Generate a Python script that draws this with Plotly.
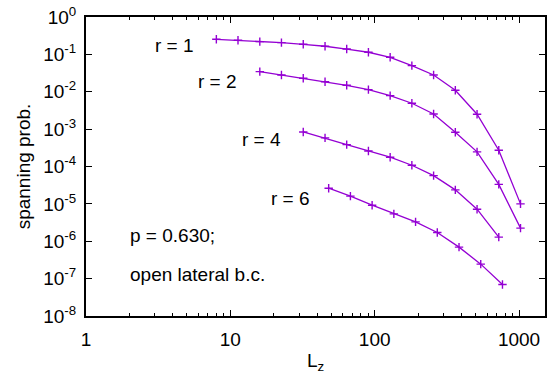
import plotly.graph_objects as go

# L_z values (powers of sqrt(2))
Lz_r1 = [8, 11.3, 16, 22.6, 32, 45.3, 64, 90.5, 128, 181, 256, 362, 512, 724, 1024]
P_r1 = [0.253, 0.238, 0.219, 0.206, 0.186, 0.165, 0.139, 0.114, 0.0836, 0.0499,
        0.0281, 0.011, 0.0025, 2.73e-4, 1.0e-5]

Lz_r2 = [16, 22.6, 32, 45.3, 64, 90.5, 128, 181, 256, 362, 512, 724, 1024]
P_r2 = [0.0345, 0.0281, 0.023, 0.0186, 0.0149, 0.0114, 0.00787, 0.00493, 0.00255,
        8.26e-4, 2.46e-4, 3.32e-5, 2.24e-6]

Lz_r4 = [32, 45.3, 64, 90.5, 128, 181, 256, 362, 512, 724]
P_r4 = [8.41e-4, 5.82e-4, 3.85e-4, 2.61e-4, 1.77e-4, 1.08e-4, 5.71e-5, 2.37e-5,
        7.21e-6, 1.29e-6]

Lz_r6 = [48, 67.9, 96, 135.8, 192, 271.5, 384, 543, 768]
P_r6 = [2.63e-5, 1.61e-5, 9.23e-6, 5.40e-6, 3.30e-6, 1.71e-6, 6.96e-7, 2.44e-7, 6.95e-8]

series = [("r = 1", Lz_r1, P_r1), ("r = 2", Lz_r2, P_r2),
          ("r = 4", Lz_r4, P_r4), ("r = 6", Lz_r6, P_r6)]

y_tickvals = [1e0, 1e-1, 1e-2, 1e-3, 1e-4, 1e-5, 1e-6, 1e-7, 1e-8]
y_ticktext = ["10<sup>0</sup>", "10<sup>-1</sup>", "10<sup>-2</sup>", "10<sup>-3</sup>",
              "10<sup>-4</sup>", "10<sup>-5</sup>", "10<sup>-6</sup>", "10<sup>-7</sup>",
              "10<sup>-8</sup>"]
x_tickvals = [1, 10, 100, 1000]
x_ticktext = ["1", "10", "100", "1000"]
x_minor = [m * 10 ** d for d in range(0, 4) for m in range(2, 10)]

COLOR = "#9400D3"
FONT = "Liberation Sans, Arial, sans-serif"
FS = 19
X_RANGE = [0, 3.18]
Y_RANGE = [-8, 0]
CLEAR = "rgba(0,0,0,0)"

fig = go.Figure()
for name, xs, ys in series:
    fig.add_trace(go.Scatter(
        x=xs, y=ys, mode="lines+markers", name=name,
        line=dict(color=COLOR, width=1.3),
        marker=dict(symbol="cross-thin", size=6, line=dict(color=COLOR, width=1.4)),
        showlegend=False, hoverinfo="skip",
    ))

labels = [
    ("r = 1", 0.1456, 0.905),
    ("r = 2", 0.2395, 0.785),
    ("r = 4", 0.336, 0.591),
    ("r = 6", 0.398, 0.394),
    ("p = 0.630;", 0.091, 0.269),
    ("open lateral b.c.", 0.091, 0.140),
]
for text, xp, yp in labels:
    fig.add_annotation(text=text, x=xp, y=yp, xref="paper", yref="paper",
                       xanchor="left", yanchor="middle", showarrow=False,
                       font=dict(family=FONT, size=FS, color="black"))

tick_in = dict(ticks="inside", tickwidth=1, tickcolor="black", mirror="ticks",
               showline=False, showgrid=False, zeroline=False, automargin=False,
               showticklabels=False, tickmode="array")

fig.update_layout(
    width=549, height=377,
    margin=dict(l=86, r=4, t=17, b=61),
    plot_bgcolor="white", paper_bgcolor="white",
    font=dict(family=FONT, size=FS, color="black"),
    xaxis=dict(
        type="log", range=X_RANGE, tickmode="array",
        tickvals=x_tickvals, ticktext=x_ticktext,
        showline=True, linecolor="black", linewidth=2, mirror=True,
        ticks="outside", ticklen=5, tickcolor=CLEAR,
        showgrid=False, zeroline=False, automargin=False,
        tickfont=dict(family=FONT, size=FS, color="black"),
        title=dict(text="L<sub>z</sub>", font=dict(family=FONT, size=FS, color="black"),
                   standoff=5),
    ),
    xaxis2=dict(type="log", range=X_RANGE, overlaying="x", side="bottom",
                tickvals=x_tickvals, ticklen=6, **tick_in),
    xaxis3=dict(type="log", range=X_RANGE, overlaying="x", side="bottom",
                tickvals=x_minor, ticklen=3, **tick_in),
    yaxis=dict(
        type="log", range=Y_RANGE, tickmode="array",
        tickvals=y_tickvals, ticktext=y_ticktext,
        showline=True, linecolor="black", linewidth=2, mirror=True,
        ticks="outside", ticklen=4, tickcolor=CLEAR,
        showgrid=False, zeroline=False, automargin=False,
        tickfont=dict(family=FONT, size=FS, color="black"),
        title=dict(text="spanning prob.", font=dict(family=FONT, size=FS, color="black"),
                   standoff=8),
    ),
    yaxis2=dict(type="log", range=Y_RANGE, overlaying="y", side="left",
                tickvals=y_tickvals, ticklen=6, **tick_in),
)

# invisible traces that activate the tick-only overlay axes
for xa, ya in [("x2", "y"), ("x3", "y"), ("x", "y2")]:
    fig.add_trace(go.Scatter(x=[x_tickvals[0]], y=[y_tickvals[0]], xaxis=xa, yaxis=ya,
                             mode="markers", marker=dict(opacity=0), hoverinfo="skip",
                             showlegend=False))

fig.write_html("out.html", config={"displayModeBar": False},
               post_script="document.body.style.margin='0';")
